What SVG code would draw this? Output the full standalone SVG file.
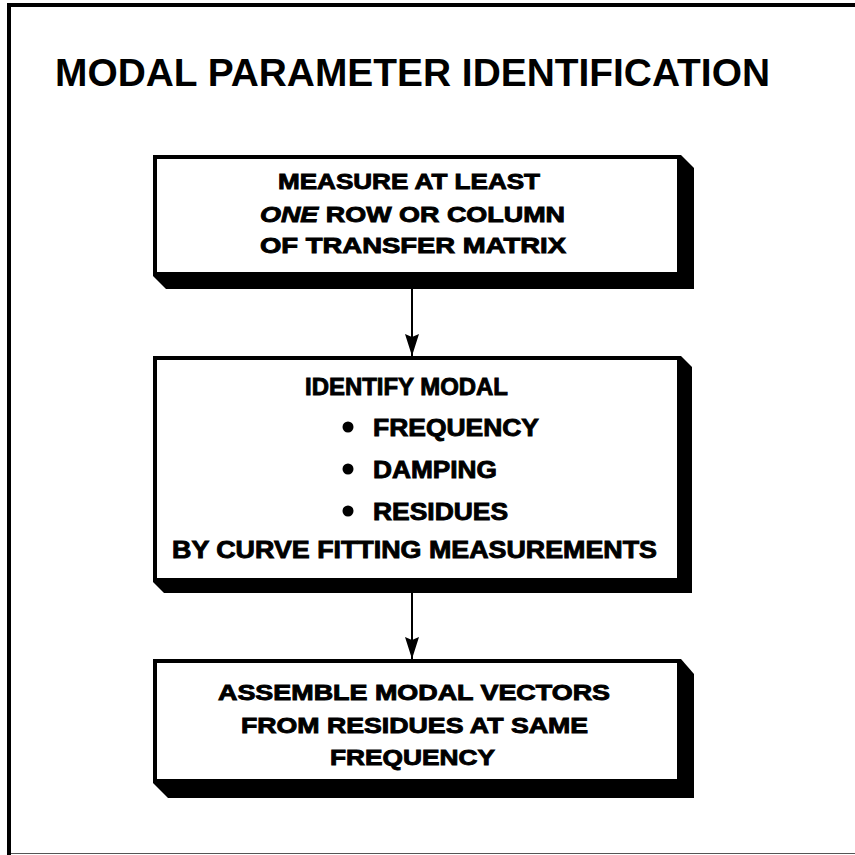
<svg xmlns="http://www.w3.org/2000/svg" width="855" height="855" viewBox="0 0 855 855">
  <style>
    .title { font-family: "Liberation Sans", Arial, sans-serif; font-weight: bold; font-size: 38px; fill: #000; }
    .t { font-family: "Liberation Sans", Arial, sans-serif; font-weight: bold; font-size: 22px; fill: #000; stroke: #000; stroke-width: 0.9; }
    .t2 { font-size: 24px; }
    .box { fill: #fff; stroke: #000; stroke-width: 4; }
    .shadow { fill: #000; }
    .conn { stroke: #000; stroke-width: 2; fill: none; }
  </style>
  <defs>
    <marker id="arrow" viewBox="0 0 22 14" refX="22" refY="7" markerWidth="22" markerHeight="14" markerUnits="userSpaceOnUse" orient="auto">
      <path d="M0,0 L22,7 L0,14 L3,7 z" fill="#000"/>
    </marker>
  </defs>
  <rect width="855" height="855" fill="#fff"/>
  <g id="frame">
    <line x1="7" y1="5" x2="855" y2="5" stroke="#000" stroke-width="4"/>
    <line x1="9" y1="3" x2="9" y2="855" stroke="#000" stroke-width="4"/>
    <line x1="11" y1="853.5" x2="855" y2="853.5" stroke="#555" stroke-width="1"/>
  </g>
  <g id="title">
    <text class="title" x="55" y="86" textLength="715" lengthAdjust="spacingAndGlyphs">MODAL PARAMETER IDENTIFICATION</text>
  </g>
  <g id="box1">
    <polygon class="shadow" points="153,276 166,289 694,289 694,168 681,155"/>
    <rect class="box" x="155" y="157" width="524" height="117"/>
    <text class="t" x="278" y="189" textLength="262" lengthAdjust="spacingAndGlyphs">MEASURE AT LEAST</text>
    <text class="t" x="260" y="222" textLength="305" lengthAdjust="spacingAndGlyphs"><tspan font-style="italic">ONE</tspan> ROW OR COLUMN</text>
    <text class="t" x="260" y="253" textLength="306" lengthAdjust="spacingAndGlyphs">OF TRANSFER MATRIX</text>
  </g>
  <g id="box2">
    <polygon class="shadow" points="153,582 164,593 692,593 692,367 681,356"/>
    <rect class="box" x="155" y="358" width="524" height="222"/>
    <text class="t t2" x="305" y="395" textLength="203" lengthAdjust="spacingAndGlyphs">IDENTIFY MODAL</text>
    <circle cx="348" cy="427" r="5.5" fill="#000"/>
    <text class="t t2" x="373" y="436" textLength="166" lengthAdjust="spacingAndGlyphs">FREQUENCY</text>
    <circle cx="348" cy="469" r="5.5" fill="#000"/>
    <text class="t t2" x="373" y="478" textLength="124" lengthAdjust="spacingAndGlyphs">DAMPING</text>
    <circle cx="348" cy="511" r="5.5" fill="#000"/>
    <text class="t t2" x="373" y="520" textLength="135" lengthAdjust="spacingAndGlyphs">RESIDUES</text>
    <text class="t t2" x="172" y="558" textLength="485" lengthAdjust="spacingAndGlyphs">BY CURVE FITTING MEASUREMENTS</text>
  </g>
  <g id="box3">
    <polygon class="shadow" points="153,783 168,798 694,798 694,674 681,659"/>
    <rect class="box" x="155" y="661" width="524" height="120"/>
    <text class="t" x="218" y="700" textLength="392" lengthAdjust="spacingAndGlyphs">ASSEMBLE MODAL VECTORS</text>
    <text class="t" x="241" y="733" textLength="347" lengthAdjust="spacingAndGlyphs">FROM RESIDUES AT SAME</text>
    <text class="t" x="330" y="765" textLength="165" lengthAdjust="spacingAndGlyphs">FREQUENCY</text>
  </g>
  <g id="connectors">
    <line class="conn" x1="412" y1="289" x2="412" y2="356" marker-end="url(#arrow)"/>
    <line class="conn" x1="412" y1="593" x2="412" y2="659" marker-end="url(#arrow)"/>
  </g>
</svg>
